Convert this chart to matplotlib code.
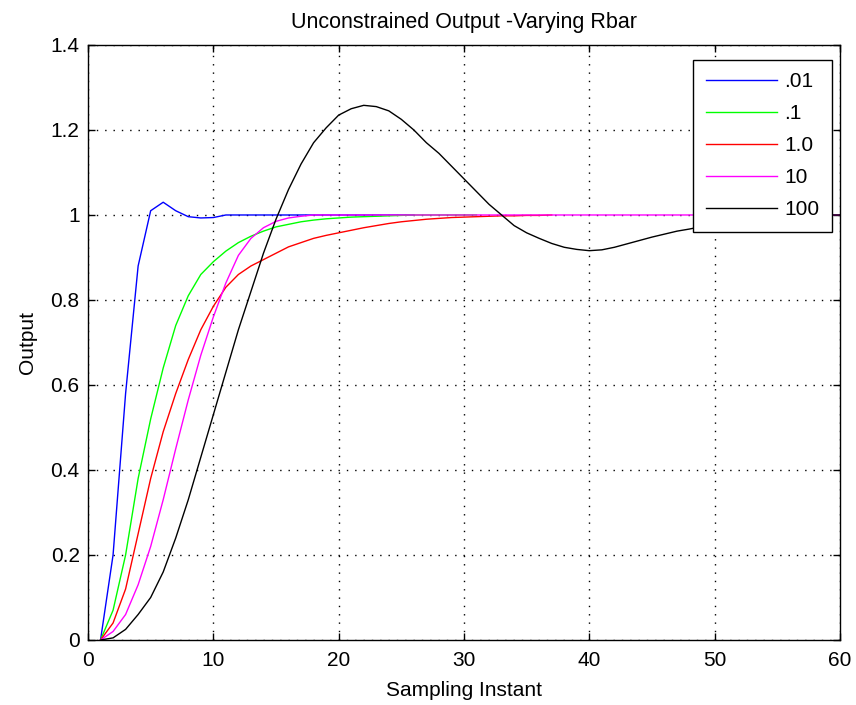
import matplotlib
matplotlib.use("Agg")
import matplotlib.pyplot as plt


# sampling instants for each run (runs have different lengths)
x_01 = list(range(1, 27))
x_1 = list(range(1, 32))
x_10 = list(range(1, 38))
x_100 = list(range(1, 61))

# Rbar = .01
y_01 = [0.0, 0.2, 0.58, 0.88, 1.01, 1.03, 1.01, 0.996, 0.993, 0.994] + [1.0] * 16

# Rbar = .1
y_1 = [0.0, 0.07, 0.2, 0.38, 0.52, 0.64, 0.74, 0.81, 0.86, 0.89,
       0.915, 0.935, 0.95, 0.962, 0.972, 0.978, 0.984, 0.988, 0.991, 0.993,
       0.995, 0.996, 0.997, 0.998, 0.999, 1.0, 1.0, 1.0, 1.0, 1.0, 1.0]

# Rbar = 1.0
y_1p0 = [0.0, 0.04, 0.12, 0.25, 0.38, 0.49, 0.58, 0.66, 0.73, 0.785,
         0.83, 0.86, 0.88, 0.895, 0.91, 0.925, 0.935, 0.945, 0.952, 0.958,
         0.964, 0.97, 0.975, 0.98, 0.984, 0.987, 0.99, 0.992, 0.994, 0.995,
         0.996, 0.997, 0.998, 0.998, 0.999, 0.999, 1.0]

# Rbar = 10
y_10 = [0.0, 0.02, 0.06, 0.13, 0.22, 0.33, 0.45, 0.565, 0.67, 0.76,
        0.84, 0.905, 0.945, 0.97, 0.985, 0.993, 0.997] + [1.0] * 43

# Rbar = 100
y_100 = [0.0, 0.005, 0.025, 0.06, 0.1, 0.16, 0.24, 0.33, 0.43, 0.53,
         0.63, 0.73, 0.82, 0.91, 0.99, 1.06, 1.12, 1.17, 1.205, 1.235,
         1.25, 1.258, 1.255, 1.245, 1.225, 1.2, 1.17, 1.145, 1.115, 1.085,
         1.055, 1.025, 1.0, 0.975, 0.958, 0.945, 0.933, 0.924, 0.919, 0.916,
         0.918, 0.924, 0.932, 0.94, 0.948, 0.955, 0.962, 0.967, 0.973, 0.978,
         0.983, 0.987, 0.99, 0.993, 0.995, 0.997, 0.998, 0.999, 1.0, 1.0]

labels = [".01", ".1", "1.0", "10", "100"]
colors = ["#0000ff", "#00ff00", "#ff0000", "#ff00ff", "#000000"]

x_ticks = [0, 10, 20, 30, 40, 50, 60]
y_ticks = [0, 0.2, 0.4, 0.6, 0.8, 1, 1.2, 1.4]
y_tick_labels = ["0", "0.2", "0.4", "0.6", "0.8", "1", "1.2", "1.4"]


def main():
    plt.rcParams["font.family"] = ["Liberation Sans", "DejaVu Sans"]

    fig = plt.figure(figsize=(8.56, 7.05), dpi=100)
    ax = fig.add_axes([0.1028, 0.0922, 0.8785, 0.8440])

    series = [(x_01, y_01), (x_1, y_1), (x_10, y_1p0), (x_100, y_10), (x_100, y_100)]
    for (xs, ys), lab, col in zip(series, labels, colors):
        ax.plot(xs, ys, color=col, lw=1.0, label=lab)

    ax.set_xlim(0, 60)
    ax.set_ylim(0, 1.4)
    ax.set_xticks(x_ticks)
    ax.set_yticks(y_ticks)
    ax.set_yticklabels(y_tick_labels)
    ax.tick_params(direction="in", length=5, width=1, labelsize=15,
                   top=True, right=True, pad=6)
    ax.tick_params(axis="x", pad=8)
    for sp in ax.spines.values():
        sp.set_linewidth(1.0)
        sp.set_color("black")

    ax.grid(True, color="black", linestyle=(0, (1, 5)), linewidth=1.0)

    ax.set_title("Unconstrained Output -Varying Rbar", fontsize=15.5, pad=12)
    ax.set_xlabel("Sampling Instant", fontsize=15, labelpad=8)
    ax.set_ylabel("Output", fontsize=15, labelpad=10)

    leg = ax.legend(loc="upper right", bbox_to_anchor=(0.989, 0.975),
                    fontsize=15, fancybox=False, framealpha=1,
                    edgecolor="black", handlelength=3.4, handletextpad=0.35,
                    labelspacing=0.62, borderpad=0.6, borderaxespad=0)
    leg.get_frame().set_linewidth(1.0)

    fig.savefig("out.png", dpi=100)
    plt.close(fig)


if __name__ == "__main__":
    main()
